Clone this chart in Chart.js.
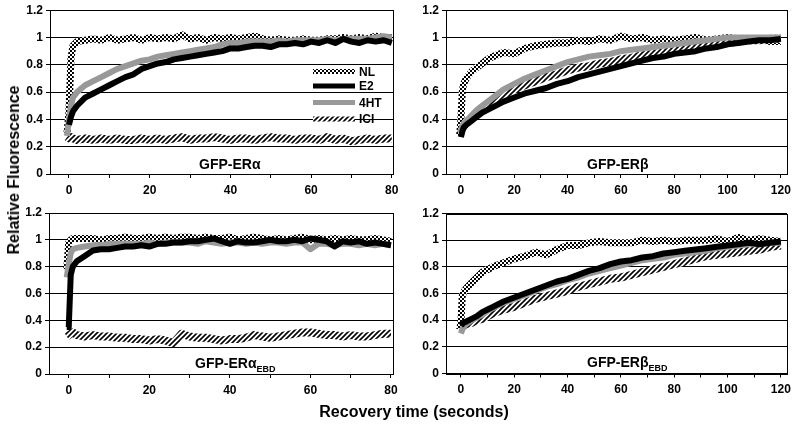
<!DOCTYPE html>
<html>
<head>
<meta charset="utf-8">
<script src="https://cdn.jsdelivr.net/npm/chart.js@4.4.1/dist/chart.umd.min.js"></script>
<style>
  html, body { margin: 0; padding: 0; background: #fff; }
  #wrap { position: relative; width: 800px; height: 426px; overflow: hidden;
          font-family: "Liberation Sans", Arial, sans-serif; font-weight: bold; color: #000; }
  #wrap canvas { position: absolute; left: 0; top: 0; }
  .ytitle { position: absolute; left: 14px; top: 170px; font-size: 16px; white-space: nowrap;
            transform: translate(-50%, -50%) rotate(-90deg); }
  .xtitle { position: absolute; left: 414px; top: 412px; font-size: 16px; white-space: nowrap;
            transform: translate(-50%, -50%); }
</style>
</head>
<body>
<div id="wrap">
  <canvas id="c1" width="800" height="426"></canvas>
  <canvas id="c2" width="800" height="426"></canvas>
  <canvas id="c3" width="800" height="426"></canvas>
  <canvas id="c4" width="800" height="426"></canvas>
  <div class="ytitle">Relative Fluorescence</div>
  <div class="xtitle">Recovery time (seconds)</div>
</div>
<script>
// series names
const seriesNames = ['NL', 'E2', '4HT', 'ICI'];

// time points (s) for the 80 s panels (ERα, ERα EBD)
const t80 = [-0.5, 0, 0.5, 1, 2, 4, 6, 8, 10, 12, 14, 16, 18, 20, 22, 24, 26, 28, 30, 32, 34, 36, 38, 40,
             42, 44, 46, 48, 50, 52, 54, 56, 58, 60, 62, 64, 66, 68, 70, 72, 74, 76, 78, 80];
// time points (s) for the 120 s panels (ERβ, ERβ EBD)
const t120 = [-0.5, 0, 0.5, 1, 2, 4, 6, 8, 10, 12, 16, 20, 24, 28, 32, 36, 40, 44, 48, 52, 56, 60, 64, 68,
              72, 76, 80, 84, 88, 92, 96, 100, 104, 108, 112, 116, 120];

// GFP-ERα
const nlA  = [0.30, 0.45, 0.85, 0.94, 0.97, 0.98, 0.99, 0.98, 1.00, 0.98, 0.99, 1.00, 0.98, 1.00, 0.99, 1.00, 0.99, 1.02, 0.99, 1.00, 0.98, 1.00,
              0.99, 1.00, 0.99, 1.00, 1.01, 0.99, 0.98, 0.99, 0.98, 0.98, 0.99, 0.98, 0.98, 0.99, 0.99, 1.00, 0.99, 1.00, 0.99, 1.01, 1.00, 1.00];
const e2A  = [null, 0.36, 0.42, 0.46, 0.50, 0.56, 0.59, 0.62, 0.65, 0.68, 0.71, 0.73, 0.77, 0.79, 0.81, 0.82, 0.84, 0.85, 0.86, 0.87, 0.88, 0.89,
              0.90, 0.92, 0.92, 0.93, 0.94, 0.94, 0.93, 0.95, 0.95, 0.96, 0.95, 0.97, 0.96, 0.98, 0.96, 0.99, 0.97, 0.96, 0.98, 0.97, 0.98, 0.96];
const htA  = [0.28, 0.40, 0.50, 0.56, 0.60, 0.65, 0.68, 0.71, 0.74, 0.77, 0.79, 0.81, 0.83, 0.84, 0.86, 0.87, 0.88, 0.89, 0.90, 0.91, 0.92, 0.93,
              0.95, 0.96, 0.96, 0.97, 0.97, 0.97, 0.97, 0.98, 0.97, 0.98, 0.98, 0.98, 0.98, 0.99, 0.98, 0.99, 0.99, 0.99, 0.99, 1.00, 1.01, 1.00];
const iciA = [0.27, 0.26, 0.27, 0.26, 0.25, 0.26, 0.25, 0.26, 0.25, 0.26, 0.25, 0.25, 0.26, 0.25, 0.26, 0.25, 0.26, 0.27, 0.25, 0.26, 0.26, 0.27,
              0.26, 0.25, 0.26, 0.26, 0.25, 0.26, 0.27, 0.26, 0.26, 0.25, 0.26, 0.26, 0.25, 0.27, 0.25, 0.26, 0.24, 0.25, 0.26, 0.25, 0.26, 0.26];

// GFP-ERβ
const nlB  = [0.28, 0.40, 0.60, 0.66, 0.70, 0.75, 0.78, 0.81, 0.84, 0.86, 0.89, 0.88, 0.92, 0.94, 0.95, 0.96, 0.96, 0.98, 0.97,
              0.99, 0.98, 1.01, 0.99, 1.00, 0.98, 0.99, 0.98, 0.99, 1.00, 0.98, 0.99, 1.00, 0.99, 0.98, 0.99, 0.97, 0.97];
const e2B  = [null, 0.27, 0.31, 0.34, 0.36, 0.39, 0.42, 0.45, 0.47, 0.49, 0.53, 0.56, 0.59, 0.61, 0.63, 0.66, 0.68, 0.71, 0.73,
              0.75, 0.77, 0.79, 0.81, 0.83, 0.85, 0.86, 0.88, 0.89, 0.90, 0.92, 0.93, 0.95, 0.96, 0.97, 0.98, 0.98, 0.99];
const htB  = [0.30, 0.32, 0.35, 0.37, 0.39, 0.43, 0.47, 0.50, 0.53, 0.56, 0.62, 0.66, 0.70, 0.73, 0.76, 0.79, 0.82, 0.84, 0.86,
              0.87, 0.88, 0.90, 0.91, 0.92, 0.93, 0.94, 0.95, 0.96, 0.97, 0.98, 0.99, 1.00, 1.00, 1.00, 1.00, 1.00, 1.00];
const iciB = [null, 0.30, 0.33, 0.35, 0.38, 0.42, 0.45, 0.48, 0.51, 0.54, 0.58, 0.62, 0.65, 0.68, 0.71, 0.73, 0.76, 0.78, 0.79,
              0.81, 0.82, 0.84, 0.85, 0.87, 0.88, 0.89, 0.90, 0.91, 0.93, 0.94, 0.95, 0.96, 0.97, 0.98, 0.98, 0.99, 0.99];

// GFP-ERα EBD
const nlAe  = [0.78, 0.98, 1.00, 1.01, 1.01, 1.01, 1.01, 1.00, 1.01, 1.01, 1.02, 1.01, 1.01, 1.02, 1.01, 1.02, 1.01, 1.02, 1.02, 1.01, 1.02, 1.01,
               1.01, 1.02, 1.00, 1.01, 1.02, 1.01, 1.00, 1.01, 1.00, 1.01, 1.02, 1.00, 1.01, 1.00, 1.01, 1.00, 1.01, 1.00, 1.00, 1.01, 1.00, 0.99];
const e2Ae  = [0.35, 0.35, 0.74, 0.80, 0.84, 0.88, 0.92, 0.93, 0.93, 0.94, 0.95, 0.95, 0.96, 0.95, 0.97, 0.97, 0.98, 0.98, 0.99, 0.99, 1.00, 1.01,
               0.99, 0.97, 0.99, 0.98, 0.98, 0.99, 1.00, 0.99, 0.99, 1.00, 0.99, 1.01, 1.00, 0.99, 0.95, 0.99, 0.98, 0.99, 0.97, 0.98, 0.97, 0.96];
const htAe  = [0.72, 0.82, 0.90, 0.93, 0.94, 0.95, 0.96, 0.96, 0.97, 0.97, 0.97, 0.97, 0.97, 0.98, 0.97, 0.98, 0.98, 0.98, 0.98, 0.97, 0.99, 0.98,
               0.97, 0.98, 0.98, 0.97, 0.98, 0.97, 0.98, 0.98, 0.97, 0.98, 0.98, 0.93, 0.97, 0.97, 0.96, 0.97, 0.97, 0.96, 0.97, 0.96, 0.97, 0.96];
const iciAe = [0.28, 0.29, 0.30, 0.31, 0.29, 0.28, 0.29, 0.28, 0.28, 0.27, 0.27, 0.26, 0.26, 0.25, 0.26, 0.25, 0.23, 0.30, 0.28, 0.27, 0.27, 0.26,
               0.25, 0.26, 0.26, 0.27, 0.29, 0.28, 0.27, 0.28, 0.29, 0.30, 0.31, 0.31, 0.30, 0.29, 0.29, 0.28, 0.29, 0.28, 0.28, 0.29, 0.30, 0.30];

// GFP-ERβ EBD
const nlBe  = [0.33, 0.38, 0.58, 0.61, 0.64, 0.68, 0.72, 0.76, 0.78, 0.80, 0.83, 0.86, 0.88, 0.91, 0.89, 0.93, 0.96, 0.96, 0.98,
               0.99, 0.98, 0.98, 0.98, 1.00, 0.99, 1.00, 0.99, 1.00, 1.00, 1.00, 1.01, 0.99, 1.02, 1.00, 1.01, 1.00, 0.99];
const e2Be  = [null, 0.36, 0.37, 0.38, 0.39, 0.41, 0.43, 0.46, 0.48, 0.50, 0.54, 0.57, 0.60, 0.63, 0.66, 0.69, 0.71, 0.74, 0.77,
               0.79, 0.82, 0.84, 0.85, 0.87, 0.88, 0.90, 0.91, 0.92, 0.93, 0.94, 0.95, 0.96, 0.97, 0.98, 0.97, 0.98, 0.99];
const htBe  = [null, 0.30, 0.33, 0.35, 0.37, 0.40, 0.42, 0.44, 0.47, 0.49, 0.53, 0.56, 0.59, 0.62, 0.65, 0.67, 0.70, 0.72, 0.75,
               0.77, 0.79, 0.81, 0.83, 0.85, 0.86, 0.87, 0.89, 0.90, 0.91, 0.92, 0.94, 0.95, 0.96, 0.97, 0.97, 0.98, 0.98];
const iciBe = [null, 0.35, 0.35, 0.36, 0.37, 0.38, 0.40, 0.41, 0.43, 0.45, 0.48, 0.50, 0.53, 0.56, 0.58, 0.60, 0.62, 0.65, 0.67,
               0.69, 0.71, 0.72, 0.74, 0.76, 0.78, 0.80, 0.82, 0.84, 0.86, 0.88, 0.89, 0.90, 0.91, 0.92, 0.93, 0.95, 0.96];

const yTicks = [0, 0.2, 0.4, 0.6, 0.8, 1, 1.2];

const FONT = '"Liberation Sans", Arial, sans-serif';

// --- line fills ---
function checkerPattern(ctx) {
    const c = document.createElement('canvas');
    c.width = 4; c.height = 4;
    const g = c.getContext('2d');
    g.fillStyle = '#fff'; g.fillRect(0, 0, 4, 4);
    g.fillStyle = '#000'; g.fillRect(0, 0, 2, 2); g.fillRect(2, 2, 2, 2);
    return ctx.createPattern(c, 'repeat');
}

function hatchPattern(ctx) {
    const c = document.createElement('canvas');
    c.width = 5; c.height = 5;
    const g = c.getContext('2d');
    g.fillStyle = '#fff'; g.fillRect(0, 0, 5, 5);
    g.strokeStyle = '#000'; g.lineWidth = 1.6;
    g.beginPath();
    g.moveTo(-1, 6); g.lineTo(6, -1);
    g.moveTo(-2, 2); g.lineTo(2, -2);
    g.moveTo(3, 7); g.lineTo(7, 3);
    g.stroke();
    return ctx.createPattern(c, 'repeat');
}

// --- plugins ---
const frame = {
    id: 'frame',
    afterDraw(chart) {
        const a = chart.chartArea, ctx = chart.ctx;
        ctx.save();
        ctx.strokeStyle = '#000';
        ctx.lineWidth = 1;
        ctx.strokeRect(Math.round(a.left) + 0.5, Math.round(a.top) + 0.5,
                       Math.round(a.right - a.left), Math.round(a.bottom - a.top));
        ctx.restore();
    }
};

const panelLabel = {
    id: 'panelLabel',
    afterDatasetsDraw(chart, args, opts) {
        const ctx = chart.ctx;
        ctx.save();
        ctx.fillStyle = '#000';
        ctx.textBaseline = 'middle';
        ctx.textAlign = 'left';
        ctx.font = 'bold 14px ' + FONT;
        ctx.fillText(opts.text, opts.x, opts.y);
        if (opts.sub) {
            const w = ctx.measureText(opts.text).width;
            ctx.font = 'bold 9px ' + FONT;
            ctx.fillText(opts.sub, opts.x + w, opts.y + 6);
        }
        ctx.restore();
    }
};

const legendBox = {
    id: 'legendBox',
    afterDatasetsDraw(chart, args, opts) {
        if (!opts.show) return;
        const ctx = chart.ctx;
        ctx.save();
        ctx.font = 'bold 12px ' + FONT;
        ctx.textBaseline = 'middle';
        ctx.fillStyle = '#000';
        chart.data.datasets.forEach((ds, i) => {
            const y = opts.rows[i];
            ctx.strokeStyle = ds.borderColor;
            ctx.lineWidth = 5;
            ctx.beginPath();
            ctx.moveTo(opts.x0, y);
            ctx.lineTo(opts.x1, y);
            ctx.stroke();
            ctx.fillText(ds.label, opts.x1 + 4, y + 1);
        });
        ctx.restore();
    }
};

// --- one panel ---
function makePanel(id, times, values, p) {
    const canvas = document.getElementById(id);
    const ctx = canvas.getContext('2d');
    const styles = [
        { color: checkerPattern(ctx), width: 7, order: 4 },
        { color: '#000', width: 6, order: 1 },
        { color: '#999', width: 6, order: 2 },
        { color: hatchPattern(ctx), width: 8, order: 3 }
    ];
    const datasets = values.map((vals, i) => ({
        label: seriesNames[i],
        data: times.map((t, k) => ({ x: t, y: vals[k] })),
        borderColor: styles[i].color,
        borderWidth: styles[i].width,
        order: styles[i].order,
        pointRadius: 0,
        tension: 0,
        borderJoinStyle: 'round',
        fill: false
    }));

    const tickFont = { family: FONT, size: 12, weight: 'bold' };

    return new Chart(ctx, {
        type: 'line',
        data: { datasets },
        options: {
            responsive: false,
            animation: false,
            devicePixelRatio: 1,
            events: [],
            layout: { padding: { left: p.L - 30, right: 800 - p.R, top: p.T, bottom: 426 - p.B - 30 } },
            plugins: {
                legend: { display: false },
                tooltip: { enabled: false },
                panelLabel: p.label,
                legendBox: p.legend || { show: false }
            },
            scales: {
                x: {
                    type: 'linear',
                    min: p.xMin,
                    max: p.xMax,
                    afterFit: s => { s.height = 30; },
                    ticks: {
                        stepSize: 10,
                        includeBounds: false,
                        autoSkip: false,
                        maxRotation: 0,
                        padding: 5,
                        color: '#000',
                        font: tickFont,
                        callback: v => (v % 20 === 0 ? String(v) : '')
                    },
                    grid: { drawOnChartArea: false, drawTicks: true, tickLength: 4, color: '#000' },
                    border: { display: true, color: '#000', width: 1 }
                },
                y: {
                    min: yTicks[0],
                    max: yTicks[yTicks.length - 1],
                    afterFit: s => { s.width = 30; },
                    afterBuildTicks: s => { s.ticks = yTicks.map(v => ({ value: v })); },
                    ticks: {
                        padding: 3,
                        color: '#000',
                        font: tickFont,
                        callback: v => String(+(+v).toFixed(1))
                    },
                    grid: { color: '#000', lineWidth: 1, tickLength: 4 },
                    border: { display: true, color: '#000', width: 1 }
                }
            }
        },
        plugins: [frame, panelLabel, legendBox]
    });
}

makePanel('c1', t80, [nlA, e2A, htA, iciA], {
    L: 50, R: 393, T: 10, B: 174, xMin: -4.7, xMax: 80.3,
    label: { text: 'GFP-ERα', x: 199, y: 165 },
    legend: { show: true, x0: 313, x1: 355, rows: [71.5, 86, 102.5, 119] }
});
makePanel('c2', t120, [nlB, e2B, htB, iciB], {
    L: 446, R: 787, T: 10, B: 174, xMin: -5.6, xMax: 122.3,
    label: { text: 'GFP-ERβ', x: 587, y: 165 }
});
makePanel('c3', t80, [nlAe, e2Ae, htAe, iciAe], {
    L: 49, R: 393, T: 213, B: 374, xMin: -4.9, xMax: 80.5,
    label: { text: 'GFP-ERα', sub: 'EBD', x: 195, y: 364 }
});
makePanel('c4', t120, [nlBe, e2Be, htBe, iciBe], {
    L: 446, R: 787, T: 213.5, B: 373.5, xMin: -5.6, xMax: 122.3,
    label: { text: 'GFP-ERβ', sub: 'EBD', x: 587, y: 363 }
});
</script>
</body>
</html>
